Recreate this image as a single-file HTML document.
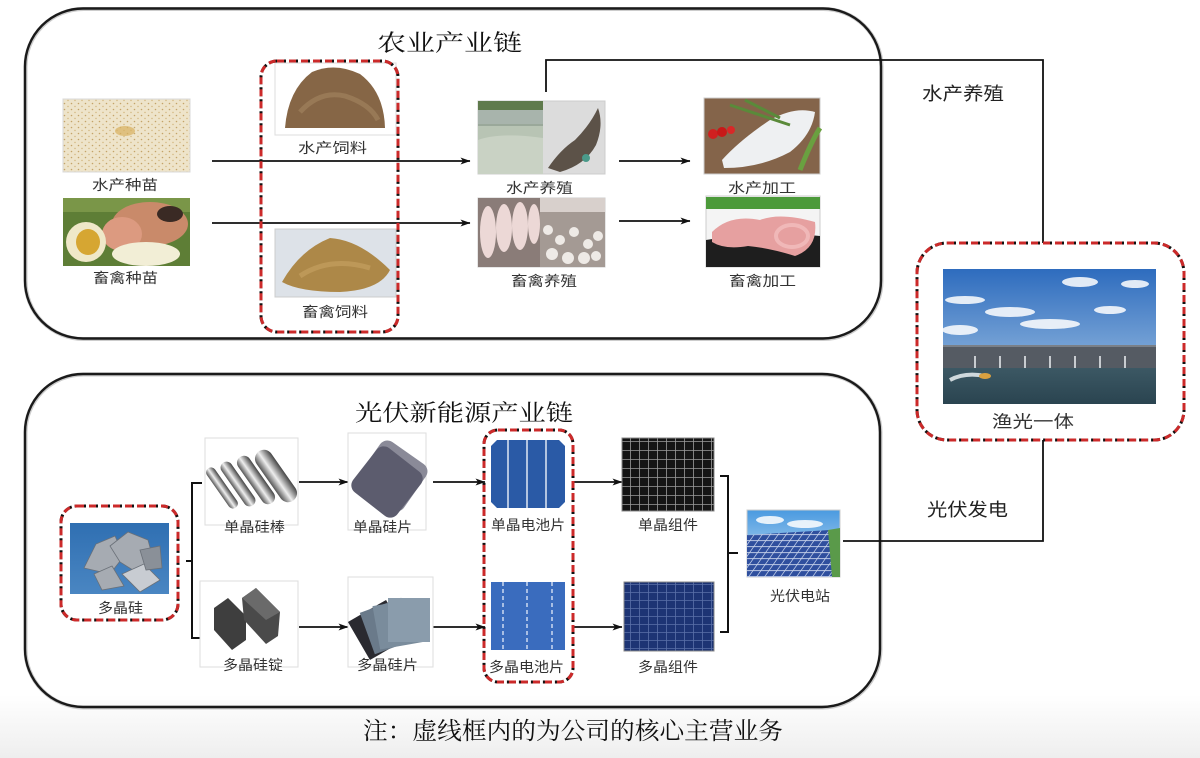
<!DOCTYPE html>
<html><head><meta charset="utf-8"><style>
html,body{margin:0;padding:0;background:#fff;}
svg{display:block;}
.lb{font-family:"Liberation Sans","Noto Sans CJK SC",sans-serif;font-size:14px;fill:#333;}
.lr{font-family:"Liberation Sans","Noto Sans CJK SC",sans-serif;font-size:18px;fill:#222;}
.tt{font-family:"Liberation Serif","Noto Serif CJK SC",serif;font-size:23px;fill:#111;}
.ft{font-family:"Liberation Serif","Noto Serif CJK SC",serif;font-size:24px;fill:#111;}
</style></head><body>
<svg width="1200" height="758" viewBox="0 0 1200 758" xmlns="http://www.w3.org/2000/svg">
<defs>
<linearGradient id="bg" x1="0" y1="0" x2="0" y2="1"><stop offset="0" stop-color="#fff"/><stop offset="1" stop-color="#eeeeee"/></linearGradient>
<marker id="ar" markerWidth="10" markerHeight="8" refX="9.5" refY="4" orient="auto" markerUnits="userSpaceOnUse"><path d="M0,0.5 L10,4 L0,7.5 L2.5,4 z" fill="#111"/></marker>
<pattern id="sp" width="7" height="6" patternUnits="userSpaceOnUse"><circle cx="1.5" cy="1.5" r="0.8" fill="#c4a468"/><circle cx="5" cy="4.5" r="0.7" fill="#d0b37a"/></pattern>
<pattern id="gm" width="9" height="9" patternUnits="userSpaceOnUse"><rect width="9" height="9" fill="#141414"/><path d="M0,0.5 H9 M0.5,0 V9" stroke="#9a9a9a" stroke-width="0.8"/></pattern>
<pattern id="gp" width="9" height="8" patternUnits="userSpaceOnUse"><rect width="9" height="8" fill="#1d3474"/><path d="M0,0.5 H9 M0.5,0 V8" stroke="#5a70a8" stroke-width="0.8"/></pattern>
<pattern id="gs" width="8" height="6" patternUnits="userSpaceOnUse" patternTransform="skewX(-35)"><rect width="8" height="6" fill="#2f4f9e"/><path d="M0,0.5 H8 M0.5,0 V6" stroke="#c8d4ec" stroke-width="0.9"/></pattern>
<linearGradient id="sky" x1="0" y1="0" x2="0" y2="1"><stop offset="0" stop-color="#2e6cbe"/><stop offset="1" stop-color="#a8c8e6"/></linearGradient>
<linearGradient id="sea" x1="0" y1="0" x2="0" y2="1"><stop offset="0" stop-color="#3c5864"/><stop offset="1" stop-color="#2a4450"/></linearGradient>
<linearGradient id="rod" x1="0" y1="0" x2="1" y2="0"><stop offset="0" stop-color="#555"/><stop offset="0.45" stop-color="#eee"/><stop offset="1" stop-color="#444"/></linearGradient>
<linearGradient id="si" x1="0" y1="0" x2="0" y2="1"><stop offset="0" stop-color="#2f6fb2"/><stop offset="1" stop-color="#4a86c2"/></linearGradient>
<linearGradient id="pvsky" x1="0" y1="0" x2="0" y2="1"><stop offset="0" stop-color="#4a9ae0"/><stop offset="1" stop-color="#cfe4f4"/></linearGradient>
</defs>

<rect x="0" y="695" width="1200" height="63" fill="url(#bg)"/>

<!-- main boxes -->
<rect x="25.5" y="9" width="856" height="330" rx="58" fill="none" stroke="#999" stroke-width="4" opacity="0.5"/>
<rect x="25" y="8.5" width="856" height="330" rx="58" fill="none" stroke="#1a1a1a" stroke-width="2.4"/>
<rect x="25.5" y="374.5" width="855" height="333" rx="58" fill="none" stroke="#999" stroke-width="4" opacity="0.5"/>
<rect x="25" y="374" width="855" height="333" rx="58" fill="none" stroke="#1a1a1a" stroke-width="2.4"/>

<!-- titles -->
<text class="tt" x="377" y="43" dominant-baseline="central" textLength="145" lengthAdjust="spacingAndGlyphs">农业产业链</text>
<text class="tt" x="355" y="413" dominant-baseline="central" textLength="218" lengthAdjust="spacingAndGlyphs">光伏新能源产业链</text>

<!-- connectors -->
<g fill="none" stroke="#111" stroke-width="1.8">
<path d="M546,92 V60 H1043 V244"/>
<path d="M843,541 H1043 V439"/>
<path d="M212,161 H470" marker-end="url(#ar)"/>
<path d="M212,223 H470" marker-end="url(#ar)"/>
<path d="M619,161 H690" marker-end="url(#ar)"/>
<path d="M619,221 H690" marker-end="url(#ar)"/>
<path d="M299,482 H348" marker-end="url(#ar)"/>
<path d="M299,627 H348" marker-end="url(#ar)"/>
<path d="M433,482 H485" marker-end="url(#ar)"/>
<path d="M433,627 H485" marker-end="url(#ar)"/>
<path d="M572,482 H622" marker-end="url(#ar)"/>
<path d="M572,627 H622" marker-end="url(#ar)"/>
<path d="M202,483 H192 V638 H202 M192,561 H186" stroke-width="2"/>
<path d="M720,476 H728 V632 H720 M728,553 H738" stroke-width="2"/>
</g>

<!-- ===== agriculture images ===== -->
<!-- 水产种苗 -->
<rect x="63" y="99" width="127" height="73" fill="#eee4ca" stroke="#d8d8d8"/>
<rect x="63" y="99" width="127" height="73" fill="url(#sp)"/>
<ellipse cx="125" cy="131" rx="10" ry="5" fill="#d8b060" opacity="0.7"/>
<text class="lb" x="92" y="185" dominant-baseline="central" textLength="66" lengthAdjust="spacingAndGlyphs">水产种苗</text>

<!-- 畜禽种苗 -->
<rect x="63" y="198" width="127" height="68" fill="#5e7e36"/>
<rect x="63" y="198" width="127" height="14" fill="#7a9648"/>
<ellipse cx="150" cy="224" rx="38" ry="22" fill="#c98a6a"/>
<ellipse cx="170" cy="214" rx="13" ry="8" fill="#3a2a24"/>
<ellipse cx="122" cy="234" rx="20" ry="17" fill="#dc9a80"/>
<ellipse cx="86" cy="242" rx="20" ry="20" fill="#efe8c8"/>
<ellipse cx="88" cy="242" rx="12" ry="13" fill="#d6a632"/>
<ellipse cx="146" cy="254" rx="34" ry="12" fill="#f2eed6"/>
<text class="lb" x="93" y="278" dominant-baseline="central" textLength="65" lengthAdjust="spacingAndGlyphs">畜禽种苗</text>

<!-- 水产饲料 -->
<rect x="275" y="63" width="121" height="72" fill="#fff" stroke="#ddd"/>
<path d="M285,128 Q288,90 312,72 Q335,62 360,74 Q384,92 385,128 Z" fill="#866646"/>
<path d="M300,112 Q320,90 345,96 Q370,104 378,120" fill="none" stroke="#a58560" stroke-width="5" opacity="0.6"/>
<text class="lb" x="298" y="148" dominant-baseline="central" textLength="69" lengthAdjust="spacingAndGlyphs">水产饲料</text>

<!-- 畜禽饲料 -->
<rect x="275" y="229" width="121" height="68" fill="#dde2e8" stroke="#ccc"/>
<path d="M282,282 Q300,250 330,238 Q360,240 390,270 Q380,290 340,292 Q300,292 282,282 Z" fill="#ad8848"/>
<path d="M300,276 Q330,256 370,268" fill="none" stroke="#c8a464" stroke-width="5" opacity="0.6"/>
<text class="lb" x="302" y="312" dominant-baseline="central" textLength="66" lengthAdjust="spacingAndGlyphs">畜禽饲料</text>

<!-- 水产养殖 -->
<rect x="478" y="101" width="127" height="73" fill="#dcdcdc" stroke="#ccc"/>
<rect x="478" y="101" width="65" height="73" fill="#9aa89a"/>
<rect x="478" y="101" width="65" height="9" fill="#5f7a4c"/>
<rect x="478" y="110" width="65" height="14" fill="#a8b4ac"/>
<rect x="478" y="126" width="65" height="48" fill="#b8c4b4"/>
<path d="M478,140 Q500,132 543,138 V174 H478 Z" fill="#cdd6c8" opacity="0.8"/>
<path d="M548,168 Q560,150 575,140 Q590,125 598,108 Q604,125 596,145 Q585,165 560,172 Z" fill="#5c5248"/>
<circle cx="586" cy="158" r="4" fill="#4a9a8a"/>
<text class="lb" x="506" y="188" dominant-baseline="central" textLength="67" lengthAdjust="spacingAndGlyphs">水产养殖</text>

<!-- 畜禽养殖 -->
<rect x="478" y="198" width="127" height="69" fill="#c8bcb8" stroke="#ccc"/>
<rect x="478" y="198" width="62" height="69" fill="#8a7c78"/>
<g fill="#ecd8d6"><ellipse cx="488" cy="232" rx="8" ry="26"/><ellipse cx="504" cy="228" rx="8" ry="24"/><ellipse cx="520" cy="226" rx="8" ry="24"/><ellipse cx="534" cy="224" rx="6" ry="20"/></g>
<rect x="540" y="198" width="65" height="69" fill="#a49a94"/>
<g fill="#eeeae6"><circle cx="548" cy="230" r="5"/><circle cx="560" cy="240" r="5"/><circle cx="574" cy="232" r="5"/><circle cx="588" cy="244" r="5"/><circle cx="552" cy="254" r="6"/><circle cx="568" cy="258" r="6"/><circle cx="584" cy="258" r="6"/><circle cx="598" cy="236" r="5"/><circle cx="596" cy="256" r="5"/></g>
<rect x="540" y="198" width="65" height="14" fill="#d8d0cc"/>
<text class="lb" x="511" y="281" dominant-baseline="central" textLength="66" lengthAdjust="spacingAndGlyphs">畜禽养殖</text>

<!-- 水产加工 -->
<rect x="704" y="98" width="116" height="76" fill="#84644a" stroke="#ccc"/>
<path d="M722,160 Q740,140 770,120 Q795,106 815,112 Q812,135 790,152 Q760,168 724,168 Z" fill="#eef0f2"/>
<path d="M730,105 L790,125 M745,100 L780,118" stroke="#5a8a3a" stroke-width="3"/>
<circle cx="713" cy="134" r="5" fill="#d02020"/><circle cx="722" cy="132" r="5" fill="#c81818"/><circle cx="731" cy="130" r="4" fill="#d82828"/>
<path d="M800,170 Q812,140 820,128" stroke="#6aa040" stroke-width="5" fill="none"/>
<text class="lb" x="728" y="188" dominant-baseline="central" textLength="68" lengthAdjust="spacingAndGlyphs">水产加工</text>

<!-- 畜禽加工 -->
<rect x="706" y="196" width="114" height="71" fill="#f4f4f4" stroke="#ccc"/>
<rect x="706" y="197" width="114" height="12" fill="#4c9a3a"/>
<path d="M706,240 Q760,230 820,236 V267 H706 Z" fill="#1e1e1e"/>
<path d="M712,232 Q730,214 760,220 Q780,212 815,222 Q818,248 795,256 Q770,248 748,246 Q725,250 712,242 Z" fill="#e6a0a0"/>
<ellipse cx="792" cy="236" rx="16" ry="11" fill="none" stroke="#f0b8b8" stroke-width="4"/>
<text class="lb" x="729" y="281" dominant-baseline="central" textLength="67" lengthAdjust="spacingAndGlyphs">畜禽加工</text>

<!-- feed dashed box -->
<rect x="261" y="61" width="137" height="271" rx="16" fill="none" stroke="#111" stroke-width="3" stroke-dasharray="9 3"/>
<rect x="261" y="61" width="137" height="271" rx="16" fill="none" stroke="#cc2a2a" stroke-width="3" stroke-dasharray="7 5"/>

<!-- right labels -->
<text class="lr" x="922" y="94" dominant-baseline="central" textLength="82" lengthAdjust="spacingAndGlyphs">水产养殖</text>
<text class="lr" x="927" y="510" dominant-baseline="central" textLength="81" lengthAdjust="spacingAndGlyphs">光伏发电</text>

<!-- 渔光一体 -->
<rect x="917" y="243" width="267" height="197" rx="30" fill="#fff"/>
<rect x="943" y="269" width="213" height="135" fill="url(#sky)"/>
<g fill="#fff" opacity="0.85"><ellipse cx="1080" cy="282" rx="18" ry="5"/><ellipse cx="1135" cy="284" rx="14" ry="4"/><ellipse cx="1010" cy="312" rx="25" ry="5"/><ellipse cx="1050" cy="324" rx="30" ry="5"/><ellipse cx="965" cy="300" rx="20" ry="4"/><ellipse cx="1110" cy="310" rx="16" ry="4"/><ellipse cx="960" cy="330" rx="18" ry="5"/></g>
<rect x="943" y="346" width="213" height="22" fill="#555b63"/>
<path d="M943,346 H1156" stroke="#7a8088" stroke-width="2"/>
<g stroke="#c8ccd0" stroke-width="2"><path d="M975,356 V372 M1000,356 V372 M1025,356 V372 M1050,356 V372 M1075,356 V370 M1100,356 V369 M1125,356 V368"/></g>
<rect x="943" y="368" width="213" height="36" fill="url(#sea)"/>
<path d="M950,380 Q965,372 985,376" stroke="#cfd8dc" stroke-width="4" fill="none"/>
<ellipse cx="985" cy="376" rx="6" ry="3" fill="#d8a040"/>
<text class="lb" x="992" y="422" dominant-baseline="central" textLength="82" lengthAdjust="spacingAndGlyphs" style="font-size:17px">渔光一体</text>
<rect x="917" y="243" width="267" height="197" rx="30" fill="none" stroke="#111" stroke-width="3" stroke-dasharray="9 3"/>
<rect x="917" y="243" width="267" height="197" rx="30" fill="none" stroke="#cc2a2a" stroke-width="3" stroke-dasharray="7 5"/>

<!-- ===== PV chain ===== -->
<!-- 多晶硅 -->
<rect x="70" y="523" width="99" height="71" fill="url(#si)"/>
<g fill="#a6abb2" stroke="#6a7078" stroke-width="0.8">
<path d="M84,568 L96,544 L115,536 L124,556 L110,574 Z"/><path d="M110,546 L128,532 L148,540 L154,562 L136,572 L120,562 Z"/><path d="M94,574 L112,566 L124,586 L102,590 Z"/><path d="M122,574 L144,564 L160,580 L140,592 Z" fill="#c8ccd2"/><path d="M140,550 L160,546 L162,568 L146,570 Z" fill="#8a9098"/></g>
<text class="lb" x="98" y="608" dominant-baseline="central" textLength="45" lengthAdjust="spacingAndGlyphs">多晶硅</text>
<rect x="61" y="506" width="117" height="114" rx="16" fill="none" stroke="#111" stroke-width="3" stroke-dasharray="9 3"/>
<rect x="61" y="506" width="117" height="114" rx="16" fill="none" stroke="#cc2a2a" stroke-width="3" stroke-dasharray="7 5"/>

<!-- 单晶硅棒 -->
<rect x="205" y="438" width="93" height="87" fill="#fff" stroke="#ddd"/>
<g fill="url(#rod)">
<rect x="-5" y="-24" width="10" height="48" rx="5" transform="translate(222,488) rotate(-35)"/>
<rect x="-6" y="-26" width="12" height="52" rx="6" transform="translate(238,484) rotate(-35)"/>
<rect x="-7" y="-28" width="14" height="56" rx="7" transform="translate(256,480) rotate(-35)"/>
<rect x="-9" y="-30" width="18" height="60" rx="9" transform="translate(276,476) rotate(-35)"/>
</g>
<text class="lb" x="224" y="527" dominant-baseline="central" textLength="61" lengthAdjust="spacingAndGlyphs">单晶硅棒</text>

<!-- 多晶硅锭 -->
<rect x="200" y="581" width="98" height="86" fill="#fff" stroke="#ddd"/>
<path d="M214,608 L228,598 L246,616 L246,640 L232,650 L214,630 Z" fill="#3e3e3e"/>
<path d="M242,598 L256,588 L280,612 L278,636 L266,644 L244,620 Z" fill="#4a4a4a"/>
<path d="M242,598 L256,588 L280,612 L266,620 Z" fill="#6a6a6a"/>
<text class="lb" x="223" y="665" dominant-baseline="central" textLength="60" lengthAdjust="spacingAndGlyphs">多晶硅锭</text>

<!-- 单晶硅片 -->
<rect x="348" y="433" width="78" height="97" fill="#fff" stroke="#ddd"/>
<rect x="-28" y="-28" width="56" height="56" rx="9" fill="#8a8a98" transform="translate(392,476) rotate(35)"/>
<rect x="-28" y="-28" width="56" height="56" rx="9" fill="#5c5c6e" transform="translate(387,482) rotate(38)"/>
<text class="lb" x="353" y="527" dominant-baseline="central" textLength="59" lengthAdjust="spacingAndGlyphs">单晶硅片</text>

<!-- 多晶硅片 -->
<rect x="348" y="577" width="85" height="90" fill="#fff" stroke="#ddd"/>
<rect x="-22" y="-22" width="44" height="44" fill="#2a2a30" transform="translate(378,630) rotate(-30)"/>
<rect x="-22" y="-22" width="44" height="44" fill="#6a7a8a" transform="translate(388,626) rotate(-20)"/>
<rect x="-22" y="-22" width="44" height="44" fill="#7a8c9c" transform="translate(398,624) rotate(-10)"/>
<rect x="388" y="598" width="42" height="44" fill="#8a9cac"/>
<text class="lb" x="357" y="665" dominant-baseline="central" textLength="61" lengthAdjust="spacingAndGlyphs">多晶硅片</text>

<!-- 单晶电池片 -->
<path d="M497,440 H559 L565,446 V502 L559,508 H497 L491,502 V446 Z" fill="#2a5aa6"/>
<path d="M508,440 V508 M527,440 V508 M546,440 V508" stroke="#dfe8f4" stroke-width="1.5"/>
<text class="lb" x="491" y="525" dominant-baseline="central" textLength="74" lengthAdjust="spacingAndGlyphs">单晶电池片</text>

<!-- 多晶电池片 -->
<rect x="491" y="582" width="74" height="68" fill="#3a6cbe"/>
<path d="M503,582 V650 M527,582 V650 M552,582 V650" stroke="#e4ecf8" stroke-width="1.3" stroke-dasharray="4 3"/>
<text class="lb" x="489" y="667" dominant-baseline="central" textLength="75" lengthAdjust="spacingAndGlyphs">多晶电池片</text>

<rect x="484" y="430" width="89" height="252" rx="14" fill="none" stroke="#111" stroke-width="3" stroke-dasharray="9 3"/>
<rect x="484" y="430" width="89" height="252" rx="14" fill="none" stroke="#cc2a2a" stroke-width="3" stroke-dasharray="7 5"/>

<!-- 单晶组件 -->
<rect x="622" y="438" width="92" height="73" fill="url(#gm)" stroke="#888"/>
<text class="lb" x="638" y="525" dominant-baseline="central" textLength="60" lengthAdjust="spacingAndGlyphs">单晶组件</text>

<!-- 多晶组件 -->
<rect x="624" y="582" width="90" height="69" fill="url(#gp)" stroke="#888"/>
<text class="lb" x="638" y="667" dominant-baseline="central" textLength="60" lengthAdjust="spacingAndGlyphs">多晶组件</text>

<!-- 光伏电站 -->
<rect x="747" y="510" width="93" height="67" fill="url(#pvsky)" stroke="#ccc"/>
<g fill="#fff" opacity="0.85"><ellipse cx="770" cy="520" rx="14" ry="4"/><ellipse cx="805" cy="524" rx="18" ry="4"/></g>
<path d="M747,535 L830,530 L840,536 V577 H747 Z" fill="url(#gs)"/>
<path d="M828,530 L840,528 V577 H832 Z" fill="#5a9a4a"/>
<text class="lb" x="770" y="596" dominant-baseline="central" textLength="60" lengthAdjust="spacingAndGlyphs">光伏电站</text>

<!-- footer -->
<text class="ft" x="363" y="732" dominant-baseline="central" textLength="420" lengthAdjust="spacingAndGlyphs">注：虚线框内的为公司的核心主营业务</text>
</svg>
</body></html>
